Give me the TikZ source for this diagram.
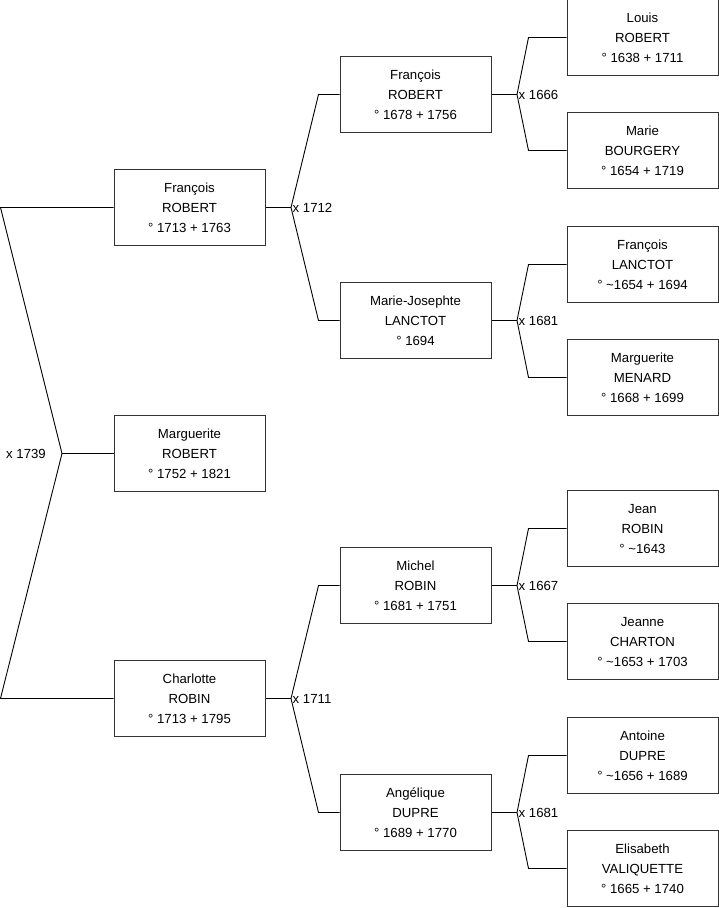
\documentclass[tikz,border=0pt]{standalone}
\usepackage{fontspec}
\setmainfont{Liberation Sans}
\begin{document}
\begin{tikzpicture}[x=1pt,y=-1pt,
  person/.style={draw=black!80, line width=1pt, minimum width=151pt, minimum height=76pt,
    inner sep=0pt, align=center, font=\fontsize{13.2}{20}\selectfont, text depth=0pt},
  link/.style={draw=black, line width=0.9pt},
  marr/.style={font=\fontsize{13.2}{16}\selectfont, inner sep=0pt}]
\useasboundingbox (0,0) rectangle (719,908);
% left column
\node[person] (p1) at (189.5,207.5) {François\\ROBERT\\° 1713 + 1763};
\node[person] (p0) at (189.5,453.5) {Marguerite\\ROBERT\\° 1752 + 1821};
\node[person] (p2) at (189.5,698.5) {Charlotte\\ROBIN\\° 1713 + 1795};
% middle column
\node[person] (p11) at (415.5,94.5) {François\\ROBERT\\° 1678 + 1756};
\node[person] (p12) at (415.5,320.5) {Marie-Josephte\\LANCTOT\\° 1694};
\node[person] (p21) at (415.5,585.5) {Michel\\ROBIN\\° 1681 + 1751};
\node[person] (p22) at (415.5,812.5) {Angélique\\DUPRE\\° 1689 + 1770};
% right column
\node[person] (p111) at (642.5,37.5) {Louis\\ROBERT\\° 1638 + 1711};
\node[person] (p112) at (642.5,150.5) {Marie\\BOURGERY\\° 1654 + 1719};
\node[person] (p121) at (642.5,264.5) {François\\LANCTOT\\° \textasciitilde1654 + 1694};
\node[person] (p122) at (642.5,377.5) {Marguerite\\MENARD\\° 1668 + 1699};
\node[person] (p211) at (642.5,528.5) {Jean\\ROBIN\\° \textasciitilde1643};
\node[person] (p212) at (642.5,641.5) {Jeanne\\CHARTON\\° \textasciitilde1653 + 1703};
\node[person] (p221) at (642.5,755.5) {Antoine\\DUPRE\\° \textasciitilde1656 + 1689};
\node[person] (p222) at (642.5,868.5) {Elisabeth\\VALIQUETTE\\° 1665 + 1740};
% left bracket
\coordinate (j0) at (62,453.5);
\coordinate (e1) at (0.5,207.5);
\coordinate (e2) at (0.5,698.5);
\draw[link] (p1.west) -- (e1) -- (j0) -- (e2) -- (p2.west);
\draw[link] (j0) -- (p0.west);
\node[marr, anchor=east] (m0) at (46,453.5) {x 1739};
% generic brackets
\foreach \pp/\ca/\cb/\lab/\el in {p1/p11/p12/x 1712/21, p2/p21/p22/x 1711/21, p11/p111/p112/x 1666/38, p12/p121/p122/x 1681/38, p21/p211/p212/x 1667/38, p22/p221/p222/x 1681/38}{
  \coordinate (J\pp) at ([xshift=25.5pt]\pp.east);
  \draw[link] (\pp.east) -- (J\pp);
  \draw[link] (J\pp) -- ([xshift=-\el pt]\ca.west) -- (\ca.west);
  \draw[link] (J\pp) -- ([xshift=-\el pt]\cb.west) -- (\cb.west);
  \node[marr, anchor=west] (M\pp) at ([xshift=1.5pt]J\pp) {\lab};
}
\end{tikzpicture}
\end{document}
